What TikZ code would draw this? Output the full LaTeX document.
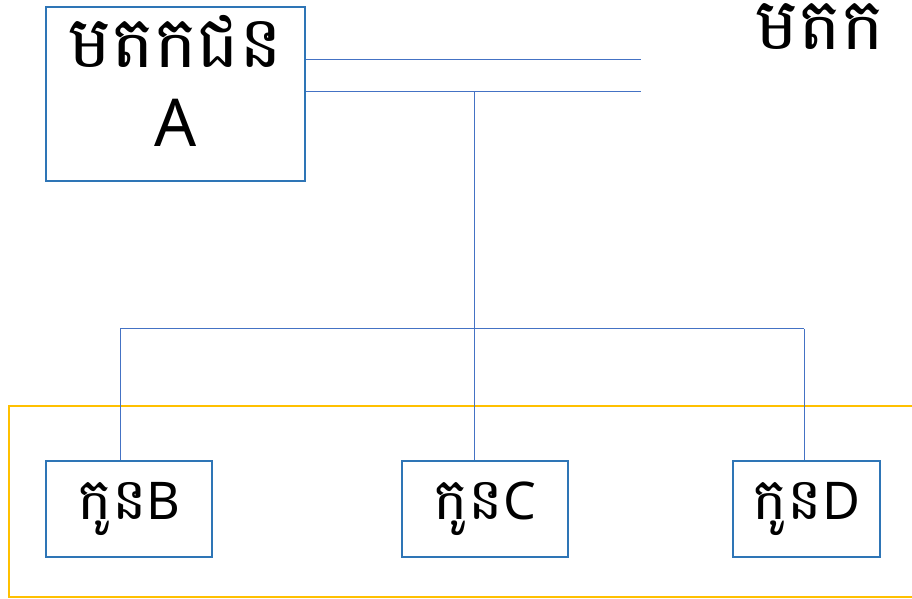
\documentclass[tikz,border=0pt]{standalone}
\usepackage{fontspec}
\setmainfont{Noto Sans}
\newfontfamily\khmerfont[Script=Khmer]{Battambang}
\definecolor{boxblue}{HTML}{2E75B6}
\definecolor{linkblue}{HTML}{4472C4}
\definecolor{frameyellow}{HTML}{FFC000}
\begin{document}
\begin{tikzpicture}[x=0.5pt, y=-0.5pt,
    parent/.style={draw=boxblue, line width=0.8pt, inner sep=0pt, minimum width=129.5pt, minimum height=87pt},
    child/.style={draw=boxblue, line width=0.8pt, inner sep=0pt, minimum width=83pt, minimum height=48pt, font=\fontsize{26}{28}\selectfont},
    kh/.style={font=\khmerfont\fontsize{36}{40}\selectfont, inner sep=0pt, text depth=0pt},
    link/.style={draw=linkblue, line width=0.5pt}]
  \useasboundingbox (0, 0) rectangle (912, 599);
  % frame round the children
  \draw[frameyellow, line width=1pt] (9, 406) rectangle (940, 597);
  % parent and children
  \node[parent] (pA) at (175.5, 94) {};
  \node[kh, anchor=base] (pAname) at (175.5, 68) {មតកជន};
  \node[font=\fontsize{33}{40}\selectfont, inner sep=0pt, anchor=base] (pAletter) at (175.5, 147) {A};
  \node[kh, anchor=base west] (pX) at (755, 50) {មតក};
  \node[child] (cB) at (129, 509) {{\khmerfont\fontsize{29}{28}\selectfont កូន}B};
  \node[child] (cC) at (485, 509) {{\khmerfont\fontsize{29}{28}\selectfont កូន}C};
  \node[child, minimum width=73.5pt] (cD) at (806.5, 509) {{\khmerfont\fontsize{29}{28}\selectfont កូន}D};
  % connectors
  \coordinate (endU) at (641, 60);
  \coordinate (endL) at (641, 92);
  \coordinate (split) at (474, 92);
  \coordinate (busL) at (120, 329);
  \coordinate (busR) at (804, 329);
  \draw[link] (pA.east |- endU) -- (endU);
  \draw[link] (pA.east |- endL) -- (endL);
  \draw[link] (split) -- (split |- cC.north);
  \draw[link] (busL) -- (busR);
  \draw[link] (busL) -- (busL |- cB.north);
  \draw[link] (busR) -- (busR |- cD.north);
\end{tikzpicture}
\end{document}
